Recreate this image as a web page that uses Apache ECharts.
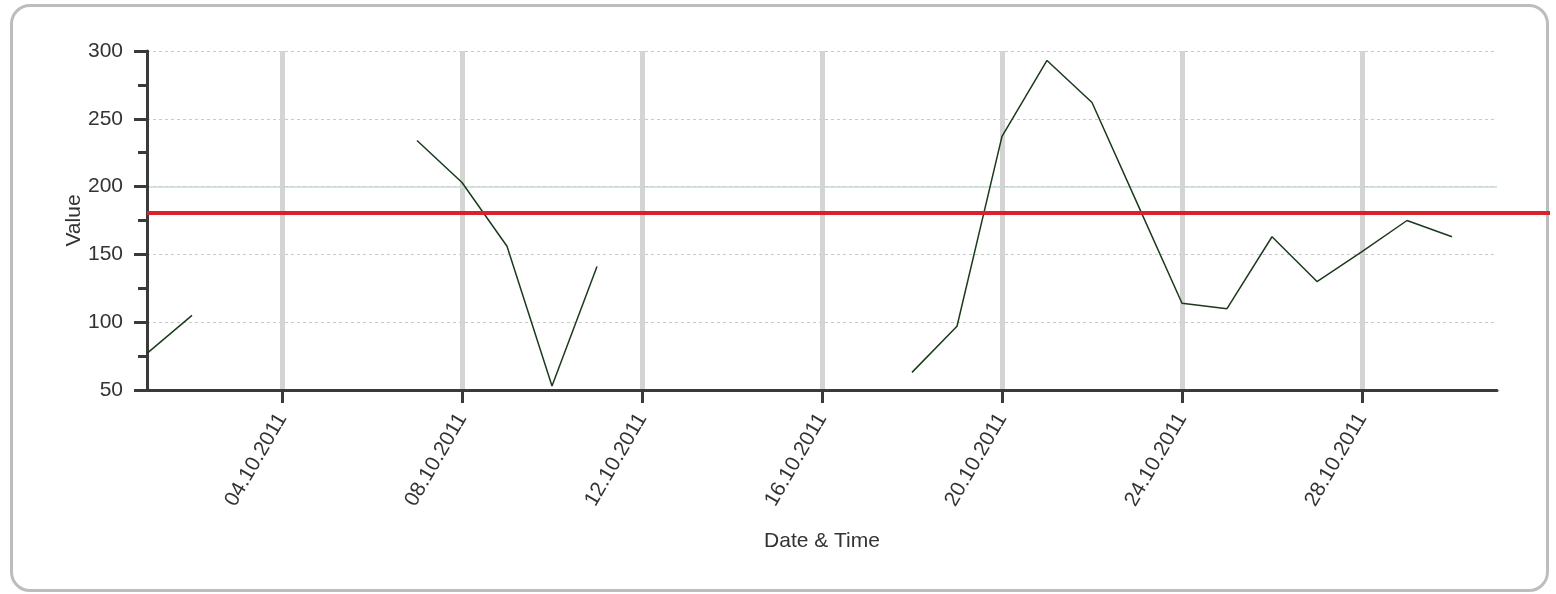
<!DOCTYPE html>
<html>
<head>
<meta charset="utf-8">
<script src="https://cdn.jsdelivr.net/npm/echarts@6/dist/echarts.min.js"></script>
<style>
  html, body { margin: 0; padding: 0; background: #fff; }
  .frame {
    position: absolute; left: 10px; top: 4px; width: 1539px; height: 588px;
    box-sizing: border-box; border: 3px solid #bdbdbd; border-radius: 20px;
  }
  #chart { position: absolute; left: 0; top: 0; width: 1556px; height: 594px; }
</style>
</head>
<body>
<div class="frame"></div>
<div id="chart"></div>
<script>
// daily categories, 01.10 .. 31.10
const dates = [
  '01.10.2011', '02.10.2011', '03.10.2011', '04.10.2011', '05.10.2011', '06.10.2011',
  '07.10.2011', '08.10.2011', '09.10.2011', '10.10.2011', '11.10.2011', '12.10.2011',
  '13.10.2011', '14.10.2011', '15.10.2011', '16.10.2011', '17.10.2011', '18.10.2011',
  '19.10.2011', '20.10.2011', '21.10.2011', '22.10.2011', '23.10.2011', '24.10.2011',
  '25.10.2011', '26.10.2011', '27.10.2011', '28.10.2011', '29.10.2011', '30.10.2011',
  '31.10.2011'
];
// null = no reading that day (gap in the line)
const values = [
  77, 105, null, null, null, null,
  234, 203, 156, 53, 141, null,
  null, null, null, null, null, 63,
  97, 237, 293, 262, 188, 114,
  110, 163, 130, 152, 175, 163,
  null
];
const yTicks = [50, 100, 150, 200, 250, 300];
const limitValue = 181;
const refValue = 200;

const font = 'Liberation Sans';
const textColor = '#333';
const showEvery4 = (i) => i % 4 === 3;

const chart = echarts.init(document.getElementById('chart'));
chart.setOption({
  animation: false,
  grid: [
    { left: 147, right: 59, top: 51, bottom: 204 },
    // wider twin grid so the limit line runs past the plot, same y scale
    { left: 147, right: 6, top: 51, bottom: 204 }
  ],
  xAxis: [{
    type: 'category',
    gridIndex: 0,
    data: dates,
    boundaryGap: false,
    name: 'Date & Time',
    nameLocation: 'middle',
    nameGap: 141,
    nameMoveOverlap: false,
    nameTextStyle: { fontFamily: font, fontSize: 21, color: textColor, verticalAlign: 'top' },
    axisLine: { lineStyle: { color: '#3a3a3a', width: 3 } },
    axisTick: { show: true, interval: showEvery4, length: 13, lineStyle: { color: '#3a3a3a', width: 3 } },
    axisLabel: {
      interval: showEvery4, rotate: 60, margin: 25,
      fontFamily: font, fontSize: 21, color: textColor
    },
    splitLine: { show: true, interval: showEvery4, lineStyle: { color: '#d4d4d4', width: 5 } }
  }, {
    type: 'value', gridIndex: 1, min: 0, max: 1, show: false
  }],
  yAxis: [{
    type: 'value',
    gridIndex: 0,
    min: yTicks[0],
    max: yTicks[yTicks.length - 1],
    interval: 50,
    name: 'Value',
    nameLocation: 'middle',
    nameGap: 62,
    nameMoveOverlap: false,
    nameTextStyle: { fontFamily: font, fontSize: 21, color: textColor },
    axisLine: { show: true, lineStyle: { color: '#3a3a3a', width: 3 } },
    axisTick: { show: true, length: 13, lineStyle: { color: '#3a3a3a', width: 3 } },
    minorTick: { show: true, splitNumber: 2, length: 9, lineStyle: { color: '#3a3a3a', width: 3 } },
    axisLabel: { margin: 24, fontFamily: font, fontSize: 21, color: textColor },
    splitLine: { show: true, lineStyle: { color: '#c8c8c8', width: 1, type: [3, 3] } }
  }, {
    type: 'value', gridIndex: 1, min: yTicks[0], max: yTicks[yTicks.length - 1], show: false
  }],
  series: [{
    type: 'line',
    xAxisIndex: 1,
    yAxisIndex: 1,
    data: [],
    z: 1,
    markLine: {
      silent: true,
      symbol: 'none',
      label: { show: false },
      lineStyle: { color: '#d9222c', width: 4, type: 'solid' },
      data: [{ yAxis: limitValue }]
    }
  }, {
    type: 'line',
    data: values,
    connectNulls: false,
    showSymbol: false,
    symbol: 'none',
    z: 3,
    lineStyle: { color: '#1c3a1c', width: 1.5 },
    markLine: {
      silent: true,
      symbol: 'none',
      label: { show: false },
      z: 0,
      lineStyle: { color: '#c6dcd6', width: 1.5, type: 'solid' },
      data: [{ yAxis: refValue }]
    }
  }]
});
</script>
</body>
</html>
